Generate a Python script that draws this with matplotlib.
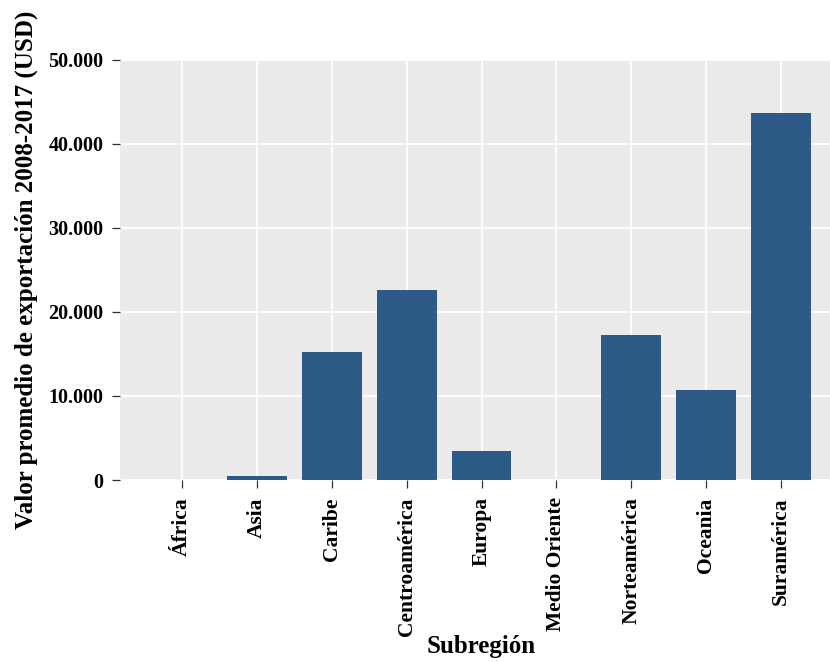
import matplotlib
matplotlib.use("Agg")
import matplotlib.pyplot as plt
from matplotlib.ticker import FuncFormatter

# values (USD)
subregiones = ["África", "Asia", "Caribe", "Centroamérica", "Europa",
               "Medio Oriente", "Norteamérica", "Oceania", "Suramérica"]
valores = [0, 500, 15200, 22600, 3450, 0, 17300, 10700, 43700]
y_ticks = [0, 10000, 20000, 30000, 40000, 50000]

plt.rcParams["font.family"] = ["Liberation Serif", "DejaVu Serif"]
plt.rcParams["font.weight"] = "bold"

fig = plt.figure(figsize=(8.30, 6.62), dpi=100)
# panel runs a little past the right edge of the picture, as in the reference
ax = fig.add_axes([120 / 830, 1 - 480 / 662, 723 / 830, 420 / 662])
ax.set_facecolor("#EBEBEB")

x = list(range(len(subregiones)))
ax.bar(x, valores, width=0.8, color="#2D5A87", zorder=3)

ax.set_xlim(-0.83, len(subregiones) - 1 + 0.83)
ax.set_ylim(0, 50000)
ax.set_xticks(x)
ax.set_xticklabels(subregiones, rotation=90, fontsize=15.5, fontweight="bold")
ax.set_yticks(y_ticks)
ax.yaxis.set_major_formatter(FuncFormatter(lambda v, p: f"{int(v):,}".replace(",", ".")))
for lab in ax.get_yticklabels():
    lab.set_fontsize(14.5)
    lab.set_fontweight("bold")

ax.grid(True, color="white", linewidth=1.3, zorder=0)
ax.set_axisbelow(True)
for s in ax.spines.values():
    s.set_visible(False)
ax.tick_params(axis="both", length=5.5, width=0.9, color="#333333",
               labelcolor="black")
ax.tick_params(axis="y", pad=6.5)
ax.tick_params(axis="x", pad=7)

ax.set_xlabel("Subregión", fontsize=18, fontweight="bold")
ax.xaxis.set_label_coords((481 - 120) / 723, (480 - 635) / 420)
ax.set_ylabel("Valor promedio de exportación 2008-2017 (USD)", fontsize=18,
              fontweight="bold")
ax.yaxis.set_label_coords((38 - 120) / 723, 0.5)

fig.savefig("out.png", dpi=100)
